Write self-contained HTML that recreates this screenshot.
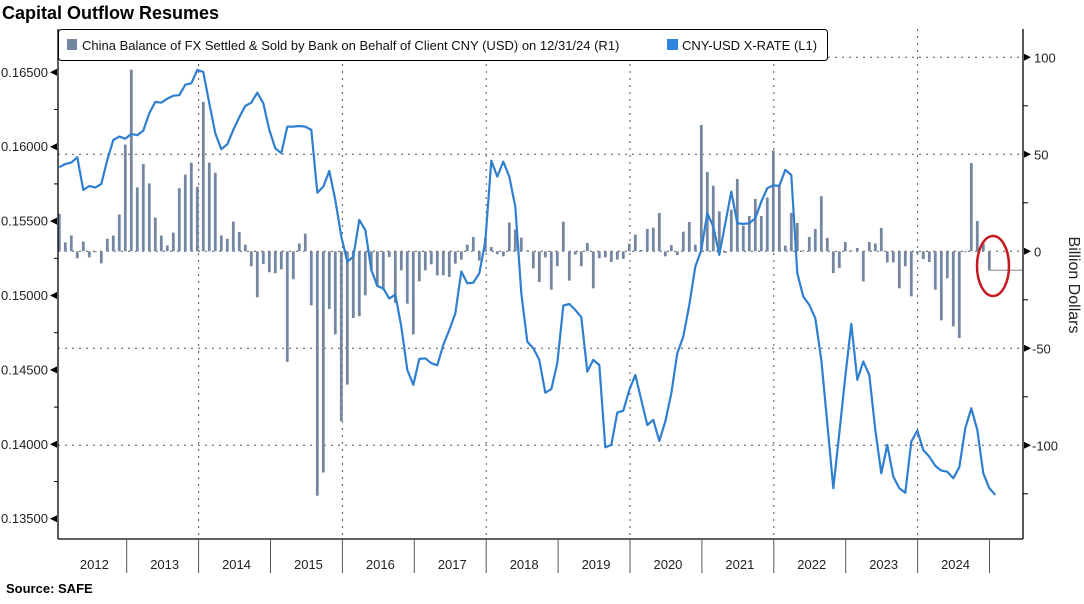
<!DOCTYPE html>
<html><head><meta charset="utf-8">
<style>
html,body{margin:0;padding:0;background:#fff;}
body{width:1084px;height:599px;overflow:hidden;font-family:"Liberation Sans",sans-serif;}
svg text{font-family:"Liberation Sans",sans-serif;}
</style></head>
<body>
<svg id="chart" width="1084" height="599" viewBox="0 0 1084 599" xmlns="http://www.w3.org/2000/svg">
  <text x="2" y="19" font-size="18" font-weight="bold" fill="#000">Capital Outflow Resumes</text>
  <text x="6" y="593" font-size="13" font-weight="bold" fill="#000">Source:  SAFE</text>
  <g id="grid"></g>
  <g id="bars"></g>
  <g id="line"></g>
  <g id="axes"></g>
  <g>
    <rect x="58.5" y="29.5" width="769" height="31" rx="3" fill="#fff" stroke="#000" stroke-width="1"/>
    <rect x="67" y="39" width="10" height="11" fill="#7587a0"/>
    <text x="82" y="50" font-size="13" fill="#111">China Balance of FX Settled &amp; Sold by Bank on Behalf of Client CNY (USD)  on 12/31/24 (R1)</text>
    <rect x="667" y="39" width="11" height="11" fill="#2f86e0"/>
    <text x="682" y="50" font-size="13" fill="#111">CNY-USD X-RATE  (L1)</text>
  </g>
  <text transform="translate(1069,285) rotate(90)" text-anchor="middle" font-size="16" fill="#222">Billion Dollars</text>
  <ellipse cx="993" cy="266" rx="16" ry="30" fill="none" stroke="#c41a1f" stroke-width="2.5"/>
</svg>
<script>
const years = ["2012","2013","2014","2015","2016","2017","2018","2019","2020","2021","2022","2023","2024"];
const leftTicks = [0.135,0.140,0.145,0.150,0.155,0.160,0.165];
const leftTickLabels = ["0.13500","0.14000","0.14500","0.15000","0.15500","0.16000","0.16500"];
const rightTicks = [-100,-50,0,50,100];
const rightTickLabels = ["-100","-50","0","50","100"];
const fxBalance = [19.4,4.6,8.2,-3.6,5,-3.1,-0.5,-6.2,6.5,8.1,19,55,93.6,33,45,35,17.4,8.1,3,9.6,32.5,39.5,45.7,33.3,77,45.7,40.5,8.2,6.5,15.3,10,3.4,-7.7,-23.7,-6.5,-10.8,-11.3,-9.3,-57,-14.4,
4,9.1,-27.8,-126,-114,-29.7,-42.8,-87.6,-68.7,-34.4,-33.5,-22.7,-9.5,-18,-19.8,-3,-26.6,-9.8,-27,-42.8,-15.5,-9.8,-6.7,-12.4,-12.4,-13.2,-6.4,-4.3,3.4,7.4,-4.8,6.9,2.2,-1.5,-2.6,14.8,11.2,7,0.5,
-8.8,-15.8,-3.1,-19.8,-7.7,15.3,-15.1,-1.7,-7.7,4.3,-19.1,-3.6,-3.1,-5.5,-4.3,-3.9,3.9,8.6,0.7,11.5,12.2,19.8,-2.6,3.2,-2,10.1,15.1,3.4,65.1,40.9,33.8,20.6,-0.9,21.5,37.3,13.2,18.2,27,18.2,27.7,51.9,
33.5,2.9,19.8,14.6,0.5,7.4,11.5,28.4,6.9,-11.2,-8.6,4.8,0.5,1.7,-15.5,4.8,4,12,-5.7,-5.7,-19.1,-7.7,-23.2,-1,-4,-5.5,-19.8,-35.6,-13.9,-38.7,-44.7,-0.5,45.5,15.6,4,-9.8];
const cnyUsd = [0.15862,0.15884,0.15893,0.15929,0.15709,0.15736,0.15725,0.15750,0.15911,0.16045,0.16068,0.16054,0.16086,0.16077,0.16108,0.16225,0.16301,0.16296,0.16323,0.16343,0.16346,0.16417,0.16426,0.16516,0.16502,0.16292,0.16090,0.15983,0.16016,0.16113,0.16198,0.16274,0.16296,0.16363,0.16292,0.16113,0.15989,0.15956,0.16135,0.16135,
0.16139,0.16135,0.16113,0.15691,0.15732,0.15837,0.15642,0.15396,0.15228,0.15261,0.15508,0.15441,0.15172,0.15064,0.15048,0.14979,0.15006,0.14791,0.14500,0.14399,0.14574,0.14578,0.14545,0.14531,0.14668,0.14768,0.14880,0.15161,0.15082,0.15087,0.15149,0.15362,0.15906,0.15799,0.15900,0.15799,0.15597,0.15015,0.14690,0.14645,
0.14567,0.14347,0.14370,0.14545,0.14932,0.14943,0.14903,0.14854,0.14489,0.14567,0.14533,0.13980,0.13996,0.14213,0.14226,0.14365,0.14466,0.14298,0.14130,0.14164,0.14023,0.14153,0.14343,0.14612,0.14724,0.14937,0.15194,0.15306,0.15553,0.15463,0.15273,0.15485,0.15698,0.15485,0.15481,0.15485,0.15519,0.15631,0.15721,0.15741,
0.15736,0.15844,0.15810,0.15149,0.14993,0.14937,0.14847,0.14567,0.14141,0.13705,0.14074,0.14455,0.14809,0.14433,0.14556,0.14466,0.14097,0.13805,0.13996,0.13783,0.13705,0.13675,0.14018,0.14092,0.13962,0.13917,0.13855,0.13823,0.13816,0.13772,0.13846,0.14108,0.14242,0.14097,0.13805,0.13705,0.13660];

const NS="http://www.w3.org/2000/svg";
const L=58, R=1023, T=29, B=539;
function xIdx(i){ return 59.3 + i*6.0; }
function yearX(k){ return 54.8 + k*71.9; }
function yL(v){ return 72.3 + (0.165 - v)*14880; }
function yR(v){ return 251.3 - v*1.94; }
function mk(tag, attrs, parent){
  const e=document.createElementNS(NS,tag);
  for(const k in attrs) e.setAttribute(k, attrs[k]);
  parent.appendChild(e); return e;
}
const grid=document.getElementById('grid'), bars=document.getElementById('bars'), lineG=document.getElementById('line'), axes=document.getElementById('axes');

// horizontal gridlines (right axis)
rightTicks.forEach(function(v){
  const y=yR(v);
  const g=mk('line',{x1:(v===100?828:L),x2:R,y1:y,y2:y,stroke:'#555','stroke-width':1,'stroke-dasharray':'2,5'},grid);
  
  
});
// vertical gridlines every other year
for(let k=2;k<years.length;k+=2){
  const x=yearX(k);
  const g=mk('line',{x1:x,x2:x,y1:T,y2:B,stroke:'#555','stroke-width':1,'stroke-dasharray':'2,5'},grid);
  
  
}
// bars
fxBalance.forEach(function(v,i){
  const x=xIdx(i), y0=yR(0), y1=yR(v);
  const b=mk('rect',{x:x-1.4,y:Math.min(y0,y1),width:2.8,height:Math.max(0.8,Math.abs(y1-y0)),fill:'#7587a0'},bars);
  
  
});
// last value marker
const lastI=fxBalance.length-1;
const lm=mk('line',{x1:xIdx(lastI),x2:R,y1:yR(fxBalance[lastI]),y2:yR(fxBalance[lastI]),stroke:'#888','stroke-width':1},bars);


// line
const pts=cnyUsd.map(function(v,i){return xIdx(i).toFixed(1)+','+yL(v).toFixed(1);}).join(' ');
const pl=mk('polyline',{points:pts,fill:'none',stroke:'#2f7fd0','stroke-width':2.2,'stroke-linejoin':'round'},lineG);



// axes
const a1=mk('line',{x1:L,x2:L,y1:T,y2:B,stroke:'#000','stroke-width':1.3},axes);


const a2=mk('line',{x1:R,x2:R,y1:T,y2:B,stroke:'#000','stroke-width':1.3},axes);


const a3=mk('line',{x1:L,x2:R,y1:B,y2:B,stroke:'#000','stroke-width':1.3},axes);



leftTicks.forEach(function(v,k){
  const y=yL(v);
  const m=mk('polygon',{points:(L-1)+','+(y-3.5)+' '+(L-1)+','+(y+3.5)+' '+(L-8)+','+y,fill:'#000'},axes);
  
  
  const t=mk('text',{x:L-10,y:y+4.5,'text-anchor':'end','font-size':13,fill:'#222'},axes);
  t.textContent=leftTickLabels[k];
  
  
  if(k<leftTicks.length-1){
    const ym=yL(v+0.0025);
    const mn=mk('line',{x1:L-4,x2:L,y1:ym,y2:ym,stroke:'#000','stroke-width':1},axes);
    
    
  }
});
rightTicks.forEach(function(v,k){
  const y=yR(v);
  const m=mk('polygon',{points:(R+1)+','+(y-3.5)+' '+(R+1)+','+(y+3.5)+' '+(R+8)+','+y,fill:'#000'},axes);
  
  
  const t=mk('text',{x:R+(v<0?9:11),y:y+5,'font-size':13,fill:'#222'},axes);
  t.textContent=rightTickLabels[k];
  
  
});
[-125,-75,-25,25,75].forEach(function(v){
  const y=yR(v);
  const mn=mk('line',{x1:R,x2:R+5,y1:y,y2:y,stroke:'#000','stroke-width':1},axes);
  
  
});
years.forEach(function(yr,k){
  const xs=Math.max(L,yearX(k)), xe=yearX(k+1);
  const t=mk('text',{x:(xs+xe)/2+2,y:569,'text-anchor':'middle','font-size':13,fill:'#222'},axes);
  t.textContent=yr;
  
  
  const tk=mk('line',{x1:xe,x2:xe,y1:B,y2:573,stroke:'#555','stroke-width':1},axes);
  
  
});
</script>
</body></html>
